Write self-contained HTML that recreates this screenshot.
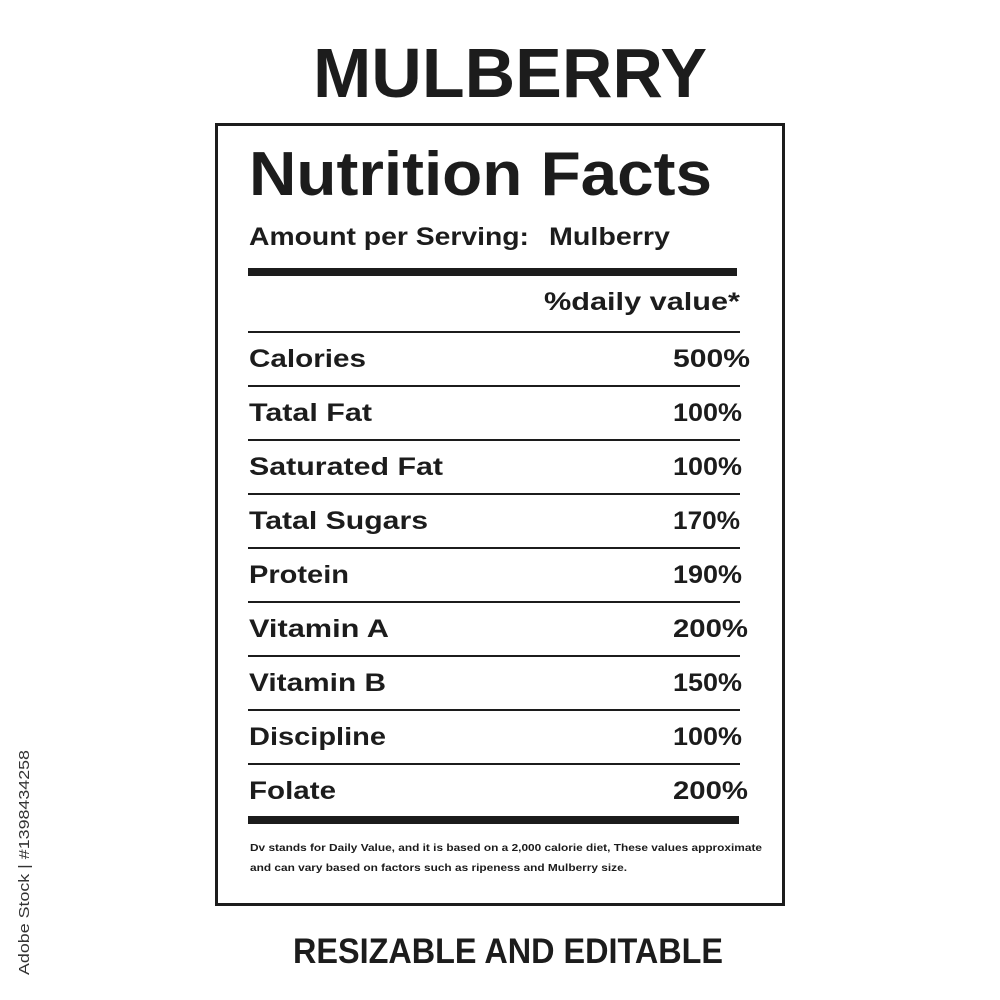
<!DOCTYPE html>
<html><head><meta charset="utf-8"><style>html,body{margin:0;padding:0;background:#fff}svg{display:block}</style></head>
<body>
<svg width="1000" height="1000" viewBox="0 0 1000 1000" xmlns="http://www.w3.org/2000/svg" font-family="Liberation Sans, sans-serif" fill="#1c1c1c">
<rect width="1000" height="1000" fill="#fff"/>
<text x="313" y="97" font-size="70" font-weight="bold" textLength="394" lengthAdjust="spacingAndGlyphs">MULBERRY</text>
<rect x="216.5" y="124.5" width="567" height="780" fill="none" stroke="#1c1c1c" stroke-width="3"/>
<text x="249" y="195" font-size="62" font-weight="bold" textLength="463" lengthAdjust="spacingAndGlyphs">Nutrition Facts</text>
<text x="249" y="245" font-size="25" font-weight="bold" textLength="280" lengthAdjust="spacingAndGlyphs">Amount per Serving:</text>
<text x="549" y="245" font-size="25" font-weight="bold" textLength="121" lengthAdjust="spacingAndGlyphs">Mulberry</text>
<rect x="248" y="268" width="489" height="8"/>
<text x="544" y="310" font-size="25" font-weight="bold" textLength="196" lengthAdjust="spacingAndGlyphs">%daily value*</text>
<g>
<rect x="248" y="331" width="492" height="2"/>
<rect x="248" y="385" width="492" height="2"/>
<rect x="248" y="439" width="492" height="2"/>
<rect x="248" y="493" width="492" height="2"/>
<rect x="248" y="547" width="492" height="2"/>
<rect x="248" y="601" width="492" height="2"/>
<rect x="248" y="655" width="492" height="2"/>
<rect x="248" y="709" width="492" height="2"/>
<rect x="248" y="763" width="492" height="2"/>
</g>
<g font-size="25" font-weight="bold">
<text x="249" y="367" textLength="117" lengthAdjust="spacingAndGlyphs">Calories</text><text x="673" y="367" textLength="77" lengthAdjust="spacingAndGlyphs">500%</text>
<text x="249" y="421" textLength="123" lengthAdjust="spacingAndGlyphs">Tatal Fat</text><text x="673" y="421" textLength="69" lengthAdjust="spacingAndGlyphs">100%</text>
<text x="249" y="475" textLength="194" lengthAdjust="spacingAndGlyphs">Saturated Fat</text><text x="673" y="475" textLength="69" lengthAdjust="spacingAndGlyphs">100%</text>
<text x="249" y="529" textLength="179" lengthAdjust="spacingAndGlyphs">Tatal Sugars</text><text x="673" y="529" textLength="67" lengthAdjust="spacingAndGlyphs">170%</text>
<text x="249" y="583" textLength="100" lengthAdjust="spacingAndGlyphs">Protein</text><text x="673" y="583" textLength="69" lengthAdjust="spacingAndGlyphs">190%</text>
<text x="249" y="637" textLength="140" lengthAdjust="spacingAndGlyphs">Vitamin A</text><text x="673" y="637" textLength="75" lengthAdjust="spacingAndGlyphs">200%</text>
<text x="249" y="691" textLength="137" lengthAdjust="spacingAndGlyphs">Vitamin B</text><text x="673" y="691" textLength="69" lengthAdjust="spacingAndGlyphs">150%</text>
<text x="249" y="745" textLength="137" lengthAdjust="spacingAndGlyphs">Discipline</text><text x="673" y="745" textLength="69" lengthAdjust="spacingAndGlyphs">100%</text>
<text x="249" y="799" textLength="87" lengthAdjust="spacingAndGlyphs">Folate</text><text x="673" y="799" textLength="75" lengthAdjust="spacingAndGlyphs">200%</text>
</g>
<rect x="248" y="816" width="491" height="8"/>
<text x="250" y="851" font-size="10.5" font-weight="bold" textLength="512" lengthAdjust="spacingAndGlyphs">Dv stands for Daily Value, and it is based on a 2,000 calorie diet, These values approximate</text>
<text x="250" y="871" font-size="10.5" font-weight="bold" textLength="377" lengthAdjust="spacingAndGlyphs">and can vary based on factors such as ripeness and Mulberry size.</text>
<text x="293" y="963" font-size="35" font-weight="bold" textLength="430" lengthAdjust="spacingAndGlyphs">RESIZABLE AND EDITABLE</text>
<text transform="translate(29,975) rotate(-90)" font-size="15" fill="#333" textLength="225" lengthAdjust="spacingAndGlyphs">Adobe Stock | #1398434258</text>
</svg>
</body></html>
